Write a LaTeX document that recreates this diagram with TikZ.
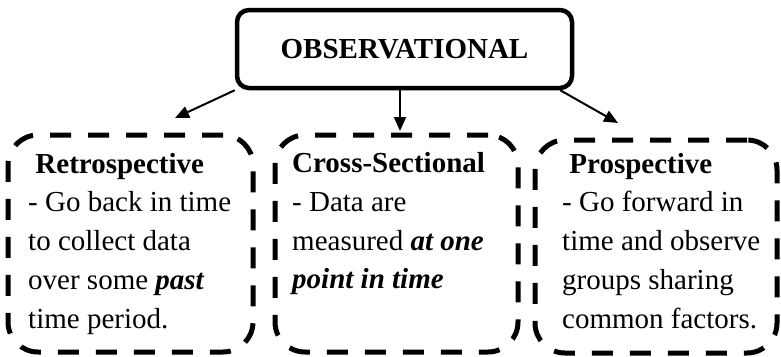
\documentclass[tikz,border=0pt]{standalone}
\usepackage{fontspec}
\setmainfont{Liberation Serif}
\usetikzlibrary{arrows.meta, positioning, calc}

\begin{document}
\begin{tikzpicture}[x=1pt, y=-1pt, font=\fontsize{29}{38.75}\selectfont,
    >={Triangle[length=14pt, width=12pt]},
    top/.style={draw, line width=4.5pt, rounded corners=12pt, minimum width=335pt, minimum height=78pt, inner sep=0pt, font=\fontsize{29}{35}\selectfont\bfseries},
    kind/.style={draw, line width=5pt, dash pattern=on 21pt off 17pt, rounded corners=30pt, inner sep=0pt},
    txt/.style={anchor=north west, inner sep=0pt, align=left},
    arr/.style={->, line width=2pt}]

  \useasboundingbox (0,0) rectangle (781,356);

  % the parent box
  \node[top] (obs) at (404.5,49) {OBSERVATIONAL};

  % the three kinds of study
  \node[kind, minimum width=245pt, minimum height=217pt] (retro) at (130.5,243.5) {};
  \node[kind, minimum width=243pt, minimum height=217pt] (cross) at (396.5,243.5) {};
  \node[kind, minimum width=242pt, minimum height=213pt] (prosp) at (656,246.5) {};

  \node[txt] (retroTxt) at (28,152.8)
    {~\textbf{Retrospective}\\
     - Go back in time\\
     to collect data\\
     over some \textbf{\textit{past}}\\
     time period.};
  \node[txt] (crossTxt) at (292,152.4)
    {\textbf{Cross-Sectional}\\
     - Data are\\
     measured \textbf{\textit{at one}}\\
     \textbf{\textit{point in time}}};
  \node[txt] (prospTxt) at (562,152.8)
    {~\textbf{Prospective}\\
     - Go forward in\\
     time and observe\\
     groups sharing\\
     common factors.};

  % arrows down to the kinds
  \coordinate (retroTip) at (175,118);
  \coordinate (crossTip) at (400,131);
  \coordinate (prospTip) at (618,123);
  \draw[arr] (obs.south west) -- (retroTip);
  \draw[arr] (crossTip |- obs.south) -- (crossTip);
  \draw[arr] ([xshift=-14pt]obs.south east) -- (prospTip);
\end{tikzpicture}
\end{document}
